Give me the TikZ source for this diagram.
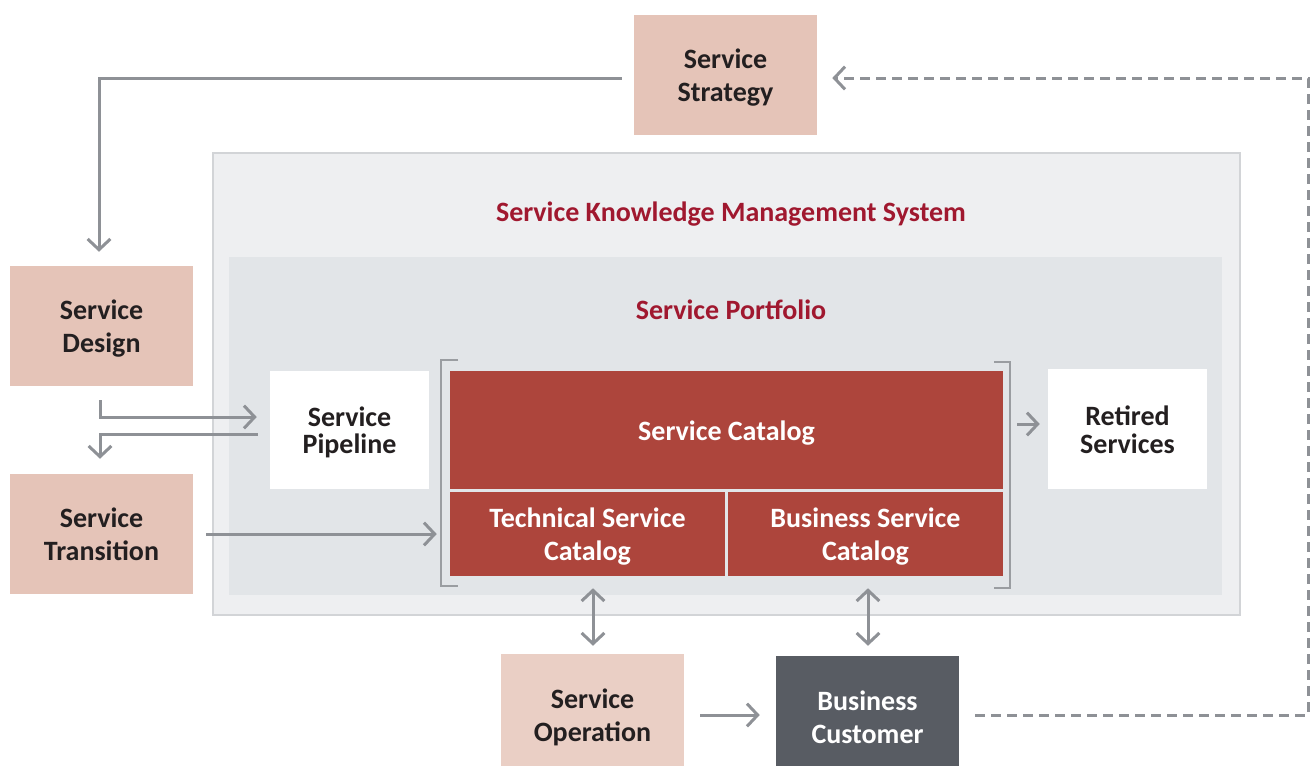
\documentclass[tikz,border=0pt]{standalone}
\usepackage{fontspec}
\setmainfont{Carlito}
\usetikzlibrary{arrows.meta,calc}
\definecolor{salmon}{HTML}{E5C4B8}
\definecolor{salmonlt}{HTML}{EACFC5}
\definecolor{catred}{HTML}{AD453C}
\definecolor{custgray}{HTML}{585C63}
\definecolor{txtdark}{HTML}{231F20}
\definecolor{headred}{HTML}{A0182F}
\definecolor{arrgray}{HTML}{8E9196}
\definecolor{skmsfill}{HTML}{EEEFF1}
\definecolor{skmsline}{HTML}{D2D4D7}
\definecolor{portfill}{HTML}{E2E5E8}
\definecolor{brackgray}{HTML}{9A9DA1}
\newcommand\lowtxt[1]{\raisebox{-2.6pt}[\height][\depth]{\begin{tabular}{@{}c@{}}#1\end{tabular}}}
\tikzset{
  sz/.style 2 args={minimum width=#1*0.75pt, minimum height=#2*0.75pt},
  boxtxt/.style={font=\bfseries\fontsize{21}{25}\selectfont, align=center, inner sep=0pt, text=txtdark},
  phase/.style={boxtxt, fill=salmon},
  whitebox/.style={boxtxt, fill=white},
  redbox/.style={boxtxt, fill=catred, text=white},
  heading/.style={font=\bfseries\fontsize{21}{25}\selectfont, text=headred, inner sep=0pt},
  tipb/.tip={Straight Barb[length=8pt,width=17pt,line width=2.25pt]},
  arr/.style={draw=arrgray, line width=2.25pt, -tipb},
  darr/.style={draw=arrgray, line width=2.25pt, tipb-tipb},
  dasharr/.style={arr, dash pattern=on 7.5pt off 4.5pt},
  brack/.style={draw=brackgray, line width=1.3pt}
}
\begin{document}
\begin{tikzpicture}[x=0.75pt, y=-0.75pt]
\useasboundingbox (0,0) rectangle (1314,765);
\clip (0,0) rectangle (1314,765);
\fill[white] (0,0) rectangle (1314,765);
% containers
\draw[fill=skmsfill, draw=skmsline, line width=0.9pt] (213,153) rectangle (1240,615);
\fill[portfill] (229,257) rectangle (1222,595);
\node[heading] (hskms) at (731,214.5) {Service Knowledge Management System};
\node[heading] (hport) at (731,310) {Service Portfolio};
% phase boxes
\node[phase, sz={183}{120}] (strat) at (725.5,75) {\lowtxt{Service\\Strategy}};
\node[phase, sz={183}{120}] (design) at (101.5,326) {\lowtxt{Service\\Design}};
\node[phase, sz={183}{120}] (trans) at (101.5,534) {\lowtxt{Service\\Transition}};
\node[phase, fill=salmonlt, sz={183}{122}] (oper) at (592.5,715) {\lowtxt{Service\\Operation}};
\node[boxtxt, fill=custgray, text=white, sz={183}{122}] (cust) at (867.5,717) {\lowtxt{Business\\Customer}};
% portfolio items
\node[whitebox, sz={159}{118}] (pipe) at (349.5,430) {\lowtxt{Service\\[-4.5pt]Pipeline}};
\node[whitebox, sz={159}{120}] (retired) at (1127.5,429) {\lowtxt{Retired\\[-4pt]Services}};
\node[redbox, sz={553}{118}] (cat) at (726.5,430) {\lowtxt{Service Catalog}};
\node[redbox, sz={275}{84}] (tech) at (587.5,534) {\lowtxt{Technical Service\\Catalog}};
\node[redbox, sz={275}{84}] (bus) at (865.5,534) {\lowtxt{Business Service\\Catalog}};
% brackets
\draw[brack] (458,360) -- (441,360) -- (441,586) -- (458,586);
\draw[brack] (994,362) -- (1010,362) -- (1010,588) -- (994,588);
% connectors
\coordinate (s1) at ($(strat.west)+(-12,3)$);
\coordinate (d1) at ($(design.north)+(-2.5,-14)$);
\draw[arr] (s1) -| (d1);
\coordinate (d2) at ($(design.south)+(-1.5,14)$);
\coordinate (p1) at ($(pipe.west)+(-13,-13)$);
\draw[arr] (d2) |- (p1);
\coordinate (p2) at ($(pipe.west)+(-12,4)$);
\coordinate (t1) at ($(trans.north)+(-1.5,-15)$);
\draw[arr] (p2) -| (t1);
\draw[arr] ($(trans.east)+(13,0)$) -- ($(tech.west)+(-13,0)$);
\draw[arr] ($(cat.east)+(14,-6)$) -- ($(retired.west)+(-8,-5)$);
\draw[darr] ($(tech.south)+(5.5,12)$) -- ($(oper.north)+(0.5,-8)$);
\draw[darr] ($(bus.south)+(2.5,12)$) -- ($(cust.north)+(0.5,-10)$);
\draw[arr] ($(oper.east)+(16,0)$) -- ($(cust.west)+(-16,-2)$);
\coordinate (c1) at ($(cust.east)+(16,-2)$);
\coordinate (c2) at (1308,715);
\coordinate (c3) at (1308,78);
\coordinate (s2) at ($(strat.east)+(15,3)$);
\draw[dasharr] (c1) -- (c2) -- (c3) -- (s2);
\end{tikzpicture}
\end{document}
